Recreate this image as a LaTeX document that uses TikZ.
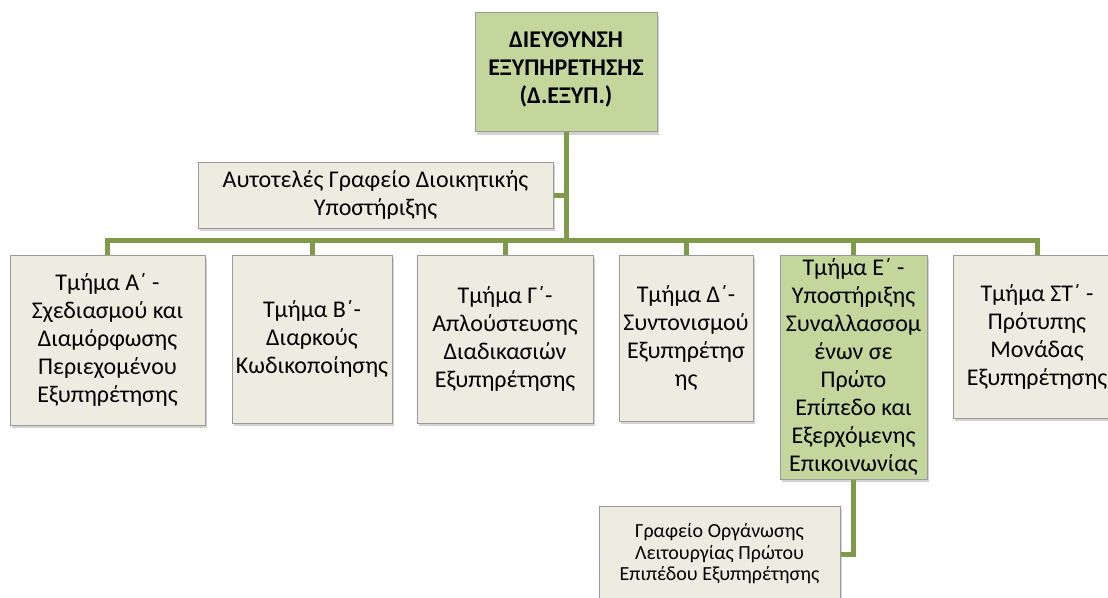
\documentclass[tikz,border=0pt]{standalone}
\usepackage{fontspec}
\setmainfont{Carlito}
\usetikzlibrary{shadows}

\definecolor{olivegr}{HTML}{7F9A48}
\definecolor{boxtan}{HTML}{EEECE1}
\definecolor{boxgreen}{HTML}{C3D69B}
\definecolor{boxline}{HTML}{9A9A9A}

\begin{document}
\begin{tikzpicture}[
  x=1pt,
  y=-1pt,
  font=\fontsize{24}{28}\selectfont,
  unit/.style={
    rectangle,
    draw=boxline,
    line width=1pt,
    fill=boxtan,
    align=center,
    inner sep=2pt,
    drop shadow={shadow xshift=2pt, shadow yshift=-3pt, opacity=0.35}
  },
  head/.style={
    unit,
    fill=boxgreen
  },
  link/.style={
    draw=olivegr,
    line width=5pt
  }
]

\useasboundingbox (0,0) rectangle (1108,597);
\clip (0,0) rectangle (1108,597);

% =========================================================
% DIRECTION
% =========================================================

\node[head, minimum width=182, minimum height=119,
      text depth=8pt] (dir) at (566,72)
  {\textbf{ΔΙΕΥΘΥΝΣΗ}\\
   \textbf{ΕΞΥΠΗΡΕΤΗΣΗΣ}\\
   \textbf{(Δ.ΕΞΥΠ.)}};

\node[unit, minimum width=355, minimum height=66] (autot) at (375.5,195)
  {Αυτοτελές Γραφείο Διοικητικής\\Υποστήριξης};

\coordinate (bus) at (566,240);

% =========================================================
% TMHMATA
% =========================================================

\node[unit, minimum width=195, minimum height=170] (tmA) at (107.5,340)
  {Τμήμα Α΄ -\\Σχεδιασμού και\\Διαμόρφωσης\\Περιεχομένου\\Εξυπηρέτησης};

\node[unit, minimum width=160, minimum height=168] (tmB) at (312,339)
  {Τμήμα Β΄-\\Διαρκούς\\Κωδικοποίησης};

\node[unit, minimum width=176, minimum height=168] (tmC) at (505,339)
  {Τμήμα Γ΄-\\Απλούστευσης\\Διαδικασιών\\Εξυπηρέτησης};

\node[unit, minimum width=134, minimum height=166] (tmD) at (686,338)
  {Τμήμα Δ΄-\\Συντονισμού\\Εξυπηρέτησ\\ης};

\node[head, minimum width=147, minimum height=224] (tmE) at (853.5,367)
  {Τμήμα Ε΄ -\\Υποστήριξης\\Συναλλασσομ\\ένων σε\\Πρώτο\\Επίπεδο και\\Εξερχόμενης\\Επικοινωνίας};

\node[unit, minimum width=168, minimum height=163] (tmST) at (1037,336.5)
  {Τμήμα ΣΤ΄ -\\Πρότυπης\\Μονάδας\\Εξυπηρέτησης};

% --- Γραφείο κάτω από το Τμήμα Ε ---

\node[unit, minimum width=241, minimum height=96,
      font=\fontsize{20}{21.5}\selectfont] (grafeio) at (719.5,554)
  {Γραφείο Οργάνωσης\\Λειτουργίας Πρώτου\\Επιπέδου Εξυπηρέτησης};

% =========================================================
% SYNDESEIS
% =========================================================

\draw[link] (dir.south) -- (bus);
\draw[link] (autot.east) -- (autot.east -| dir.south);

\foreach \t in {tmA,tmB,tmC,tmD,tmE,tmST}
  \draw[link] (bus) -| (\t.north);

\draw[link] (tmE.south) |- (grafeio.east);

\end{tikzpicture}
\end{document}
